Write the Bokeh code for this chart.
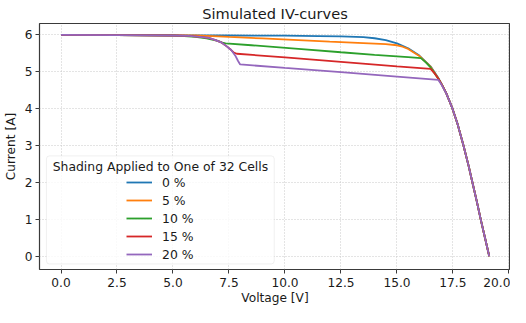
from bokeh.plotting import figure
from bokeh.models import (Range1d, FixedTicker, PrintfTickFormatter, Legend, LegendItem,
                          BoxAnnotation, Label)
from bokeh.embed import file_html
from bokeh.resources import INLINE

# ---------------- data ----------------
x_ticks = [0.0, 2.5, 5.0, 7.5, 10.0, 12.5, 15.0, 17.5, 20.0]
y_ticks = [0, 1, 2, 3, 4, 5, 6]

series_labels = ["0 %", "5 %", "10 %", "15 %", "20 %"]
series_colors = ["#1f77b4", "#ff7f0e", "#2ca02c", "#d62728", "#9467bd"]

v_0 = [0.0, 2.5, 5.0, 7.5, 10.0, 11.5, 12.5, 13.5, 14.0, 14.5, 15.0, 15.5, 16.0, 16.5,
       16.85, 17.0, 17.2, 17.48, 17.7, 17.97, 18.2, 18.37, 18.56, 18.74, 18.93, 19.12]
i_0 = [6.00, 5.995, 5.99, 5.985, 5.98, 5.97, 5.96, 5.94, 5.91, 5.86, 5.77, 5.64, 5.44, 5.15,
       4.83, 4.66, 4.42, 4.00, 3.60, 3.00, 2.45, 2.00, 1.50, 1.00, 0.50, 0.00]

v_5 = [0.0, 2.5, 5.0, 6.0, 6.5, 7.5, 9.0, 10.6, 12.0, 13.5, 14.5, 15.0, 15.25, 15.5, 16.0, 16.5,
       16.85, 17.0, 17.2, 17.48, 17.7, 17.97, 18.2, 18.37, 18.56, 18.74, 18.93, 19.12]
i_5 = [6.00, 5.995, 5.99, 5.985, 5.975, 5.945, 5.905, 5.86, 5.82, 5.78, 5.75, 5.72, 5.68, 5.62, 5.43, 5.14,
       4.82, 4.66, 4.42, 4.00, 3.60, 3.00, 2.45, 2.00, 1.50, 1.00, 0.50, 0.00]

v_10 = [0.0, 2.5, 5.0, 5.5, 6.0, 6.5, 7.0, 7.2, 7.35, 8.5, 10.6, 12.5, 14.0, 15.5, 16.07, 16.3, 16.5,
        16.85, 17.0, 17.2, 17.48, 17.7, 17.97, 18.2, 18.37, 18.56, 18.74, 18.93, 19.12]
i_10 = [6.00, 5.995, 5.985, 5.97, 5.95, 5.91, 5.84, 5.79, 5.77, 5.72, 5.62, 5.53, 5.46, 5.40, 5.37, 5.25, 5.12,
        4.81, 4.66, 4.42, 4.00, 3.60, 3.00, 2.45, 2.00, 1.50, 1.00, 0.50, 0.00]

v_15 = [0.0, 2.5, 5.0, 5.7, 6.2, 6.6, 6.9, 7.18, 7.4, 7.6, 7.72, 7.85, 10.0, 12.5, 15.0, 16.5, 16.65,
        16.85, 17.0, 17.2, 17.48, 17.7, 17.97, 18.2, 18.37, 18.56, 18.74, 18.93, 19.12]
i_15 = [6.00, 5.995, 5.985, 5.975, 5.95, 5.92, 5.86, 5.79, 5.69, 5.59, 5.52, 5.49, 5.39, 5.27, 5.15, 5.08, 4.98,
        4.81, 4.66, 4.42, 4.00, 3.60, 3.00, 2.45, 2.00, 1.50, 1.00, 0.50, 0.00]

v_20 = [0.0, 2.5, 5.0, 5.7, 6.2, 6.6, 6.9, 7.18, 7.4, 7.6, 7.8, 7.9, 8.0, 10.0, 12.5, 15.0,
        16.85, 17.0, 17.2, 17.48, 17.7, 17.97, 18.2, 18.37, 18.56, 18.74, 18.93, 19.12]
i_20 = [6.00, 5.995, 5.985, 5.975, 5.95, 5.92, 5.86, 5.79, 5.69, 5.59, 5.42, 5.30, 5.20, 5.105, 4.99, 4.87,
        4.78, 4.64, 4.42, 4.00, 3.60, 3.00, 2.45, 2.00, 1.50, 1.00, 0.50, 0.00]

voltages = [v_0, v_5, v_10, v_15, v_20]
currents = [i_0, i_5, i_10, i_15, i_20]

title_text = "Simulated IV-curves"
x_label = "Voltage [V]"
y_label = "Current [A]"
legend_title = "Shading Applied to One of 32 Cells"

# ---------------- figure ----------------
FONT = "DejaVu Sans"
TXT = "#1a1a1a"

p = figure(width=510, height=307, output_backend="svg", toolbar_location=None,
           x_range=Range1d(-0.96, 20.07), y_range=Range1d(-0.36, 6.31),
           min_border_left=32, min_border_right=0, min_border_top=0, min_border_bottom=0)

p.title.text = title_text
p.title.text_font = FONT
p.title.text_font_size = "14.6px"
p.title.text_font_style = "normal"
p.title.text_color = TXT
p.title.align = "center"
p.title.standoff = 4

p.outline_line_color = "#3a3a3a"
p.outline_line_width = 1.2
p.background_fill_color = "white"
p.border_fill_color = "white"

for ax in (p.xaxis[0], p.yaxis[0]):
    ax.axis_line_color = None
    ax.major_tick_line_color = "#3a3a3a"
    ax.major_tick_out = 4
    ax.major_tick_in = 0
    ax.minor_tick_line_color = None
    ax.major_label_text_font = FONT
    ax.major_label_text_font_size = "12.2px"
    ax.major_label_text_color = TXT
    ax.axis_label_text_font = FONT
    ax.axis_label_text_font_size = "12.2px"
    ax.axis_label_text_font_style = "normal"
    ax.axis_label_text_color = TXT

p.xaxis.ticker = FixedTicker(ticks=x_ticks)
p.xaxis.formatter = PrintfTickFormatter(format="%.1f")
p.yaxis.ticker = FixedTicker(ticks=y_ticks)
p.xaxis.axis_label = x_label
p.yaxis.axis_label = y_label
p.xaxis.major_label_standoff = 4
p.xaxis.axis_label_standoff = 1
p.yaxis.major_label_standoff = 3
p.yaxis.axis_label_standoff = 4

p.grid.grid_line_color = "#c8c8c8"
p.grid.grid_line_dash = "1 2"
p.grid.grid_line_width = 1

renderers = []
for v, i, c in zip(voltages, currents, series_colors):
    r = p.line(v, i, line_color=c, line_width=1.8)
    renderers.append(r)

# legend frame + title
box = BoxAnnotation(left=-0.65, right=9.52, top=2.72, bottom=-0.21,
                    fill_color="white", fill_alpha=0.8,
                    line_color="#cccccc", line_width=1, border_radius=3)
p.add_layout(box)
lt = Label(x=4.44, y=2.44, text=legend_title, text_align="center", text_baseline="middle",
           text_font=FONT, text_font_size="12.4px", text_color=TXT)
p.add_layout(lt)

legend = Legend(items=[LegendItem(label=l, renderers=[r]) for l, r in zip(series_labels, renderers)],
                location=(87, 6), orientation="vertical",
                border_line_color=None, background_fill_alpha=0.0,
                padding=0, margin=0, spacing=0,
                glyph_width=26, glyph_height=18, label_height=18, label_standoff=10,
                label_text_font=FONT, label_text_font_size="12.4px", label_text_color=TXT)
p.add_layout(legend)

open("out.html", "w").write(file_html(p, INLINE))
